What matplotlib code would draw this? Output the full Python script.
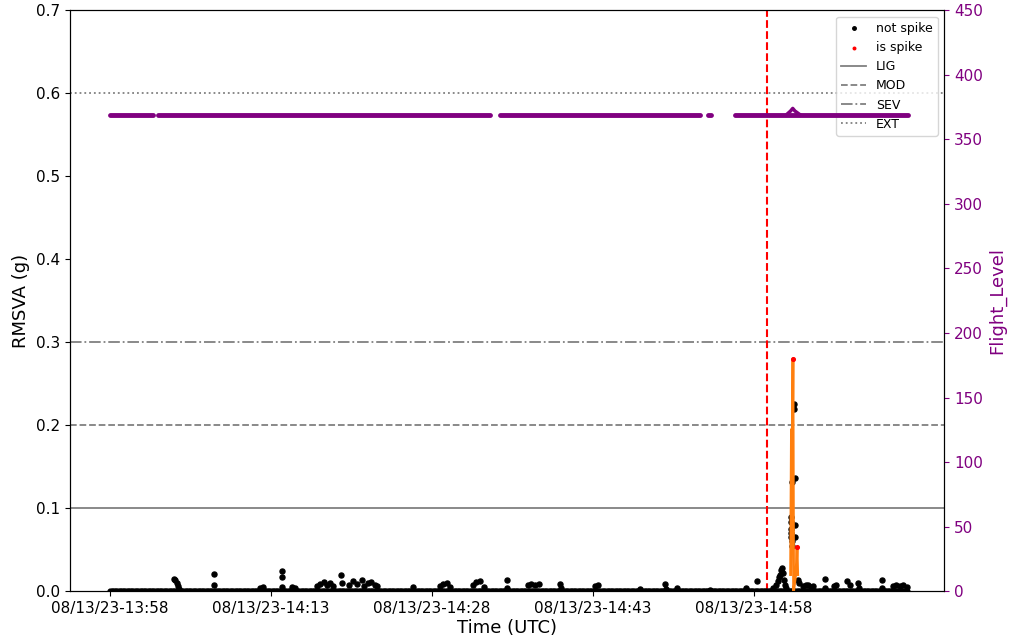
import numpy as np
import pandas as pd
import matplotlib
matplotlib.use("Agg")
import matplotlib.pyplot as plt
import matplotlib.dates as mdates

START = pd.Timestamp("2023-08-13 13:58:00")

# --- RMSVA (g): minutes after 13:58 and value, for the non-zero "not spike" points
ns_minutes = [6.0, 6.1, 6.2, 6.3, 6.4, 9.7, 9.7, 14.0, 14.3, 16.0, 16.0, 16.05, 17.0, 17.2,
              19.3, 19.6, 19.9, 20.2, 20.5, 20.8, 21.5, 21.6, 22.3, 22.6, 23.0, 23.5, 23.7,
              24.0, 24.3, 24.7, 24.9, 28.2, 30.7, 31.0, 31.4, 31.7, 33.8, 34.1, 34.5, 34.8,
              37.0, 37.0, 38.9, 39.2, 39.6, 40.0, 41.9, 42.0, 45.2, 45.5, 49.4, 51.7, 51.8,
              52.8, 55.9, 59.2, 60.3, 61.8, 62.0, 62.2, 62.3, 62.4, 62.5, 62.6, 62.7, 62.8,
              62.9, 63.0, 63.4, 63.42, 63.45, 63.45, 63.48, 63.5, 63.5, 63.52, 63.7, 63.68,
              63.8, 63.85, 63.85, 64.1, 64.2, 64.6, 64.8, 65.0, 65.3, 65.5, 66.6, 66.6, 67.4,
              67.6, 68.7, 68.9, 69.7, 69.8, 71.9, 71.9, 72.9, 73.2, 73.6, 73.9, 74.2]
ns_values = [0.015, 0.013, 0.010, 0.006, 0.003, 0.021, 0.007, 0.004, 0.005, 0.024, 0.017, 0.005, 0.005, 0.004,
             0.006, 0.009, 0.011, 0.007, 0.010, 0.006, 0.020, 0.010, 0.008, 0.012, 0.009, 0.013, 0.006,
             0.010, 0.011, 0.008, 0.006, 0.005, 0.006, 0.009, 0.010, 0.005, 0.008, 0.011, 0.012, 0.005,
             0.013, 0.004, 0.008, 0.009, 0.007, 0.009, 0.009, 0.004, 0.006, 0.007, 0.003, 0.009, 0.003,
             0.004, 0.002, 0.004, 0.012, 0.004, 0.008, 0.012, 0.017, 0.020, 0.025, 0.028, 0.022, 0.014,
             0.008, 0.004, 0.089, 0.083, 0.075, 0.070, 0.065, 0.060, 0.055, 0.131, 0.226, 0.220,
             0.136, 0.080, 0.065, 0.014, 0.010, 0.006, 0.008, 0.007, 0.005, 0.006, 0.015, 0.004, 0.006,
             0.008, 0.012, 0.008, 0.010, 0.004, 0.013, 0.004, 0.006, 0.007, 0.006, 0.007, 0.005]

# baseline readings (essentially zero) from 13:58 to the end of the record
base_start_min, base_end_min, base_step_min = 0.0, 74.3, 0.15
base_value = 0.0008

# --- "is spike" points
spike_minutes = [63.62, 64.0]
spike_values = [0.280, 0.053]

# --- orange spike trace
trace_minutes = [63.40, 63.48, 63.55, 63.62, 63.68, 63.92, 64.00, 64.06]
trace_values = [0.020, 0.195, 0.150, 0.280, 0.000, 0.025, 0.053, 0.020]

# --- Flight level segments (start min, end min, level)
fl_seg_start = [0.0, 4.47, 36.3, 55.7, 58.2]
fl_seg_end = [4.0, 35.4, 55.0, 56.0, 74.3]
fl_level = 369
bump_minutes = [63.0, 63.4, 63.6, 63.8, 64.3]
bump_levels = [369, 372, 374, 372, 369]

# --- thresholds
thr_names = ["LIG", "MOD", "SEV", "EXT"]
thr_values = [0.1, 0.2, 0.3, 0.6]
thr_styles = ["-", "--", "-.", ":"]

# marker for the red dashed line
event_minute = 61.2

tick_minutes = [0, 15, 30, 45, 60]
xlim_minutes = [-3.73, 77.7]


def to_time(mins):
    return START + pd.to_timedelta(np.asarray(mins, dtype=float), unit="m")


fig = plt.figure(figsize=(10.13, 6.44), dpi=100)
ax = fig.add_axes([0.069, 0.082, 0.863, 0.902])
ax2 = ax.twinx()

base_minutes = np.arange(base_start_min, base_end_min, base_step_min)
ax.scatter(to_time(base_minutes), np.full(len(base_minutes), base_value), s=12, color="black", zorder=3)
ax.scatter(to_time(ns_minutes), ns_values, s=13, color="black", label="not spike", zorder=3)
ax.plot(to_time(trace_minutes), trace_values, color="tab:orange", lw=2, zorder=4)
ax.scatter(to_time(spike_minutes), spike_values, s=7, color="red", label="is spike", zorder=5)

for name, v, ls in zip(thr_names, thr_values, thr_styles):
    ax.axhline(v, color="gray", ls=ls, lw=1.3, label=name)

ax.axvline(to_time([event_minute])[0], color="red", ls="--", lw=1.5)

ax.set_ylim(0, 0.7)
ax.set_xlim(to_time([xlim_minutes[0]])[0], to_time([xlim_minutes[1]])[0])
ax.set_xticks(to_time(tick_minutes))
ax.xaxis.set_major_formatter(mdates.DateFormatter("%m/%d/%y-%H:%M"))
ax.set_ylabel("RMSVA (g)", fontsize=13)
ax.set_xlabel("Time (UTC)", fontsize=13, labelpad=2)
ax.tick_params(labelsize=11)

for s, e in zip(fl_seg_start, fl_seg_end):
    mins = [s, e]
    ax2.plot(to_time(mins), [fl_level, fl_level], color="purple", lw=3.5,
             solid_capstyle="round", zorder=2)
ax2.plot(to_time(bump_minutes), bump_levels, color="purple", lw=2.5, zorder=2)

ax2.set_ylim(0, 450)
ax2.set_ylabel("Flight_Level", color="purple", fontsize=13)
ax2.tick_params(axis="y", colors="purple", labelsize=11)

ax.legend(loc="upper right", fontsize=9, markerscale=0.7)

fig.savefig("out.png", dpi=100)
